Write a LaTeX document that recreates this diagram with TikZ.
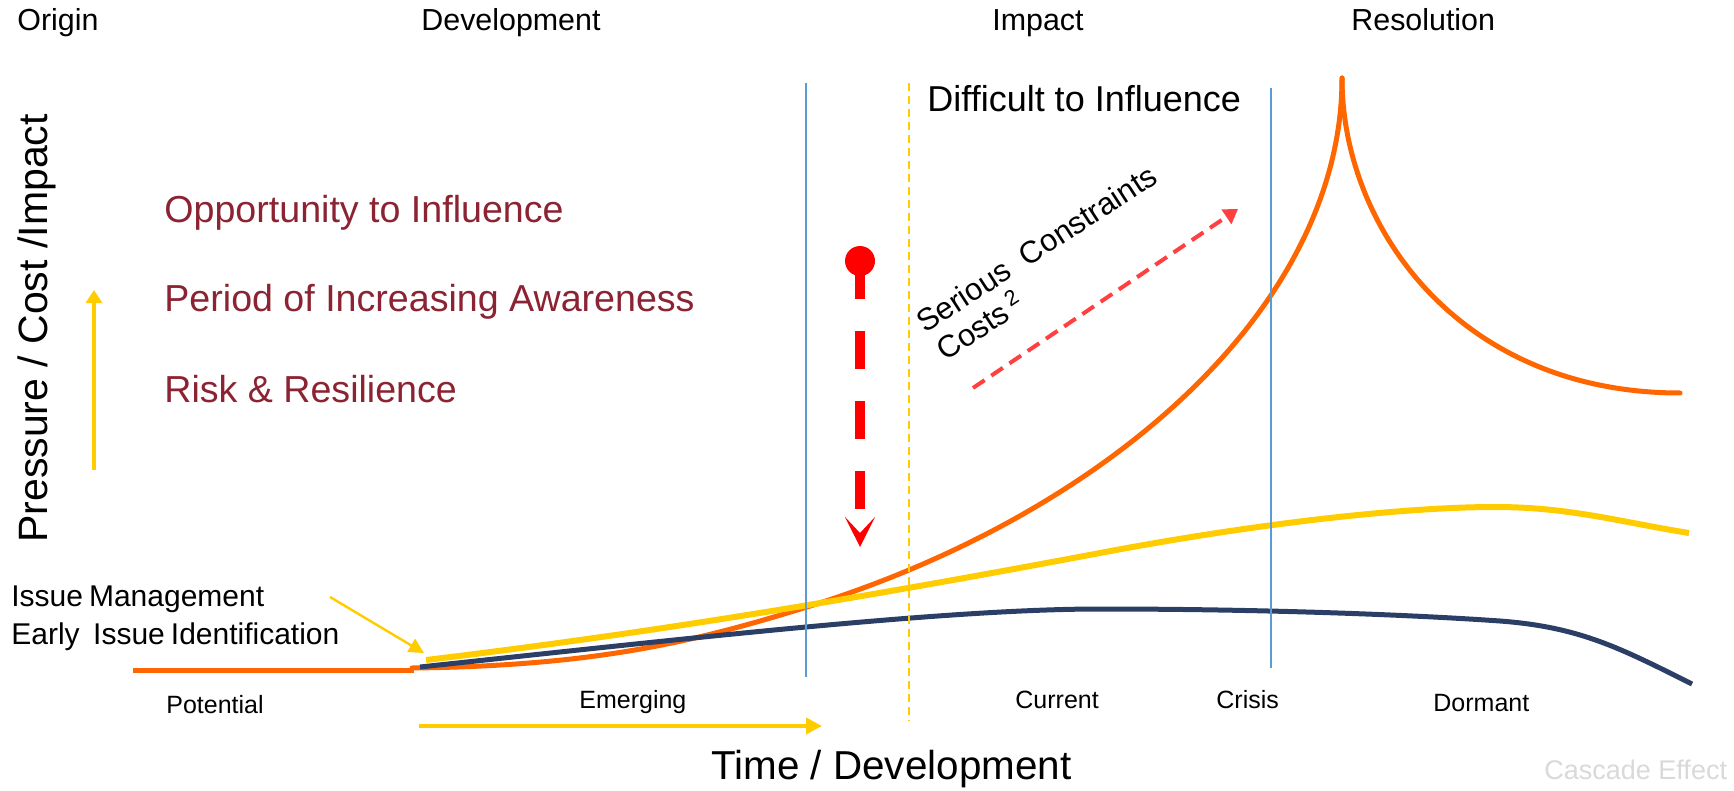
\documentclass[tikz,border=0pt]{standalone}
\usepackage{fontspec}
\setmainfont{Liberation Sans}
\usetikzlibrary{arrows.meta}
\definecolor{orangeC}{HTML}{FF6600}
\definecolor{yellowC}{HTML}{FFCC00}
\definecolor{navyC}{HTML}{2B3F66}
\definecolor{blueC}{HTML}{5B9BD5}
\definecolor{maroonC}{HTML}{8B2332}
\definecolor{redC}{HTML}{FF0000}
\definecolor{lightredC}{HTML}{FF4040}
\definecolor{grayC}{HTML}{D9D9D9}
\begin{document}
\begin{tikzpicture}[x=0.5pt,y=-0.5pt,
  lbl/.style={inner sep=0pt,anchor=base west},
  phase/.style={lbl,font=\fontsize{15.2}{18}\selectfont},
  maroonlbl/.style={lbl,text=maroonC,font=\fontsize{18.8}{23}\selectfont},
  stage/.style={lbl,font=\fontsize{12.5}{15}\selectfont},
  issuelbl/.style={lbl,font=\fontsize{15}{18}\selectfont},
  rotlbl/.style={lbl,rotate=33,font=\fontsize{15.5}{19}\selectfont},
  curve/.style={line width=2.5pt},
  vline/.style={blueC,line width=1pt},
  dot/.style={circle,fill=redC,inner sep=0pt,minimum size=15pt},
]
\useasboundingbox (0,0) rectangle (1734,791);

% phase titles
\node[phase] (origin) at (17,31) {Origin};
\node[phase] (development) at (421,31) {Development};
\node[phase] (impact) at (992,31) {Impact};
\node[phase] (resolution) at (1351,31) {Resolution};

\node[lbl,font=\fontsize{18}{22}\selectfont] (difficult) at (927,112) {Difficult to Influence};

\node[maroonlbl] (opp) at (164,223) {Opportunity to Influence};
\node[maroonlbl] (period) at (164,312) {Period of Increasing Awareness};
\node[maroonlbl] (risk) at (164,402) {Risk \& Resilience};

\node[lbl,rotate=90,font=\fontsize{20.5}{24}\selectfont] (yaxis) at (47,543) {Pressure / Cost /Impact};
\node[lbl,font=\fontsize{20.2}{24}\selectfont] (xaxis) at (711,779) {Time / Development};

\node[issuelbl] (issue1) at (11,606) {Issue\hspace{0.2em}Management};
\node[issuelbl] (issue2) at (11,644) {Early\hspace{0.45em}Issue\hspace{0.2em}Identification};

\node[stage] (potential) at (166,713) {Potential};
\node[stage] (emerging) at (579,708) {Emerging};
\node[stage] (current) at (1015,708) {Current};
\node[stage] (crisis) at (1216,708) {Crisis};
\node[stage] (dormant) at (1433,711) {Dormant};
\node[lbl,text=grayC,font=\fontsize{13.5}{16}\selectfont] (cascade) at (1544,779) {Cascade Effect};

\node[rotlbl] (serious) at (925,334) {Serious\ \ Constraints};
\node[rotlbl] (costs) at (945,362) {Costs\,\textsuperscript{2}};

% curves
\draw[curve,orangeC] (133,670) -- (414,670);
\draw[curve,orangeC,line cap=round] (412,668) .. controls (600,666) and (700,640) .. (807,607)
  .. controls (1107,514) and (1342,308) .. (1342,78);
\draw[curve,orangeC,line cap=round] (1342,78) .. controls (1342,228) and (1460,393) .. (1680,393);
\draw[curve,yellowC,line width=3pt] (426,660) .. controls (650,633) and (850,600) .. (1100,553)
  .. controls (1250,524.5) and (1400,507) .. (1495,507)
  .. controls (1570,507) and (1620,522) .. (1689,533);
\draw[curve,navyC] (420,667) .. controls (700,637) and (950,609) .. (1100,609)
  .. controls (1250,609) and (1400,614) .. (1500,621)
  .. controls (1580,627) and (1620,648) .. (1692,684);

% vertical lines
\coordinate (v1top) at (806,83); \coordinate (v1bot) at (806,677);
\coordinate (v2top) at (1271,88); \coordinate (v2bot) at (1271,668);
\coordinate (ytop) at (909,83); \coordinate (ybot) at (909,721);
\draw[vline] (v1top) -- (v1bot);
\draw[vline] (v2top) -- (v2bot);
\draw[yellowC,line width=1.2pt,dash pattern=on 4pt off 2.5pt] (ytop) -- (ybot);

% arrows
\coordinate (upS) at (94,470); \coordinate (upE) at (94,290);
\draw[yellowC,line width=2pt,-{Triangle[length=6.5pt,width=8pt]}] (upS) -- (upE);
\coordinate (botS) at (419,726); \coordinate (botE) at (822,726);
\draw[yellowC,line width=2.3pt,-{Triangle[length=8pt,width=8pt]}] (botS) -- (botE);
\coordinate (ptrS) at (330,597); \coordinate (ptrE) at (424,653);
\draw[yellowC,line width=1.2pt,-{Triangle[length=7.5pt,width=7.5pt]}] (ptrS) -- (ptrE);
\coordinate (diagS) at (973,388); \coordinate (diagE) at (1238,209);
\draw[lightredC,line width=2pt,dash pattern=on 7pt off 4pt,-{Triangle[length=7pt,width=8.5pt]}] (diagS) -- (diagE);

\node[dot] (dot) at (860,261) {};
\coordinate (downE) at (860,547);
\draw[redC,line width=5pt,dash pattern=on 19pt off 16pt,-{Stealth[length=15pt,width=15pt,inset=8pt]}] (dot.center) -- (downE);
\end{tikzpicture}
\end{document}
